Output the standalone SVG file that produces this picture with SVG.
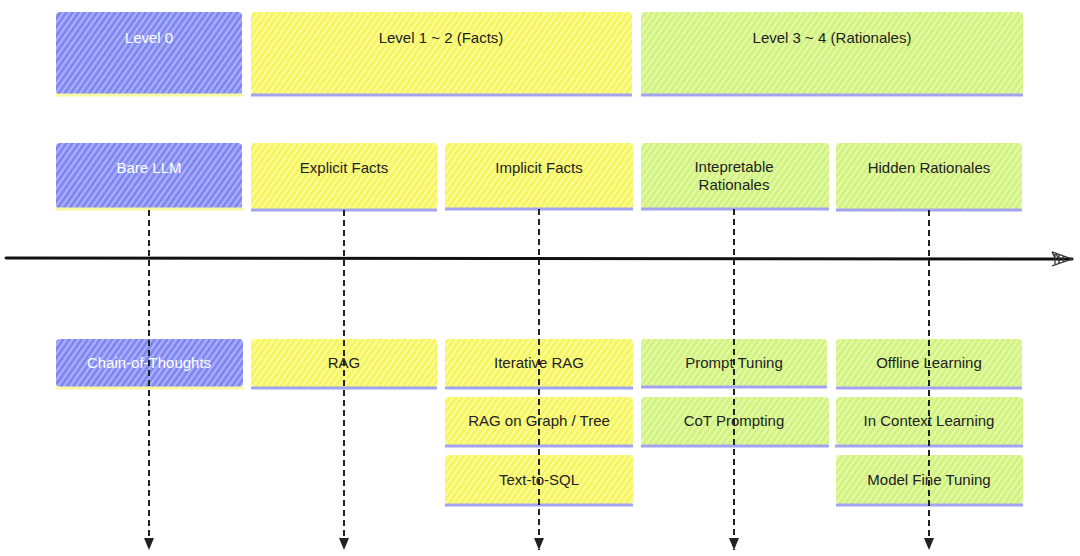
<svg xmlns="http://www.w3.org/2000/svg" width="1080" height="556" viewBox="0 0 1080 556">
<defs>
<pattern id="hb" patternUnits="userSpaceOnUse" width="5" height="5" patternTransform="rotate(35)">
<rect width="5" height="5" fill="#a9aff7"/><line x1="1.5" y1="0" x2="1.5" y2="5" stroke="#7880f0" stroke-width="2.4"/></pattern>
<pattern id="hy" patternUnits="userSpaceOnUse" width="5" height="5" patternTransform="rotate(35)">
<rect width="5" height="5" fill="#fbfb9c"/><line x1="1.5" y1="0" x2="1.5" y2="5" stroke="#f5f555" stroke-width="2.6"/></pattern>
<pattern id="hg" patternUnits="userSpaceOnUse" width="5" height="5" patternTransform="rotate(35)">
<rect width="5" height="5" fill="#e3f9a6"/><line x1="1.5" y1="0" x2="1.5" y2="5" stroke="#cff27c" stroke-width="2.6"/></pattern>
<marker id="ah" viewBox="0 0 12 10" refX="12" refY="5" markerWidth="12" markerHeight="10" markerUnits="userSpaceOnUse" orient="auto">
<path d="M0,0 L12,5 L0,10 Z" fill="#222"/></marker>
<marker id="ax" viewBox="0 0 24 16" refX="22" refY="8" markerWidth="24" markerHeight="16" markerUnits="userSpaceOnUse" orient="auto">
<path d="M2,1 L22,8 L2,15 M5,3 L5,13 M9,4 L9,12 M13,5 L13,11 M2,1 L6,9 M6,3 L10,10" fill="none" stroke="#333" stroke-width="1.3"/></marker>
</defs>
<style>
.b{fill:url(#hb)}
.y{fill:url(#hy)}
.g{fill:url(#hg)}
.ub{stroke:#a3a3f0;stroke-width:3}
.uy{stroke:#f8f8a0;stroke-width:3}
.t{font-family:"Liberation Sans","DejaVu Sans",sans-serif;font-size:15px;fill:#222;text-anchor:middle}
.w{fill:#fff}
.d{fill:none;stroke:#222;stroke-width:2;stroke-dasharray:6 4}
</style>
<rect width="1080" height="556" fill="#fff"/>

<g id="level0"><rect class="b" x="56" y="12" width="186" height="83" rx="4"/><line class="uy" x1="56" y1="95" x2="243" y2="95"/><text class="t w" x="149" y="43">Level 0</text></g>
<g id="level12"><rect class="y" x="251" y="12" width="381" height="83" rx="4"/><line class="ub" x1="251" y1="95" x2="632" y2="95"/><text class="t" x="441" y="43">Level 1 ~ 2 (Facts)</text></g>
<g id="level34"><rect class="g" x="641" y="12" width="382" height="83" rx="4"/><line class="ub" x1="641" y1="95" x2="1023" y2="95"/><text class="t" x="832" y="43">Level 3 ~ 4 (Rationales)</text></g>

<g id="bare-llm"><rect class="b" x="56" y="143" width="186" height="66" rx="4"/><line class="uy" x1="56" y1="209" x2="243" y2="209"/><text class="t w" x="149" y="173">Bare LLM</text></g>
<g id="explicit-facts"><rect class="y" x="251" y="143" width="186" height="66" rx="4"/><line class="ub" x1="251" y1="210" x2="437" y2="210"/><text class="t" x="344" y="173">Explicit Facts</text></g>
<g id="implicit-facts"><rect class="y" x="445" y="143" width="188" height="66" rx="4"/><line class="ub" x1="445" y1="209" x2="633" y2="209"/><text class="t" x="539" y="173">Implicit Facts</text></g>
<g id="interpretable"><rect class="g" x="641" y="143" width="188" height="66" rx="4"/><line class="ub" x1="641" y1="209" x2="829" y2="209"/><text class="t" x="734" y="172">Intepretable</text><text class="t" x="734" y="190">Rationales</text></g>
<g id="hidden"><rect class="g" x="836" y="143" width="186" height="66" rx="4"/><line class="ub" x1="836" y1="210" x2="1022" y2="210"/><text class="t" x="929" y="173">Hidden Rationales</text></g>

<g id="cot"><rect class="b" x="56" y="339" width="187" height="48" rx="4"/><line class="uy" x1="56" y1="388" x2="243" y2="388"/><text class="t w" x="149" y="368">Chain-of-Thoughts</text></g>
<g id="rag"><rect class="y" x="251" y="339" width="186" height="48" rx="4"/><line class="ub" x1="251" y1="388" x2="437" y2="388"/><text class="t" x="344" y="368">RAG</text></g>
<g id="iterative-rag"><rect class="y" x="445" y="339" width="188" height="48" rx="4"/><line class="ub" x1="445" y1="388" x2="633" y2="388"/><text class="t" x="539" y="368">Iterative RAG</text></g>
<g id="rag-graph"><rect class="y" x="445" y="397" width="188" height="48" rx="4"/><line class="ub" x1="445" y1="446" x2="633" y2="446"/><text class="t" x="539" y="426">RAG on Graph / Tree</text></g>
<g id="text-to-sql"><rect class="y" x="445" y="455" width="188" height="49" rx="4"/><line class="ub" x1="445" y1="505" x2="633" y2="505"/><text class="t" x="539" y="485">Text-to-SQL</text></g>
<g id="prompt-tuning"><rect class="g" x="641" y="339" width="186" height="48" rx="4"/><line class="ub" x1="641" y1="387" x2="827" y2="387"/><text class="t" x="734" y="368">Prompt Tuning</text></g>
<g id="cot-prompting"><rect class="g" x="641" y="397" width="188" height="48" rx="4"/><line class="ub" x1="641" y1="446" x2="829" y2="446"/><text class="t" x="734" y="426">CoT Prompting</text></g>
<g id="offline-learning"><rect class="g" x="836" y="339" width="186" height="48" rx="4"/><line class="ub" x1="836" y1="388" x2="1022" y2="388"/><text class="t" x="929" y="368">Offline Learning</text></g>
<g id="icl"><rect class="g" x="836" y="397" width="187" height="48" rx="4"/><line class="ub" x1="835" y1="446" x2="1023" y2="446"/><text class="t" x="929" y="426">In Context Learning</text></g>
<g id="fine-tuning"><rect class="g" x="836" y="455" width="187" height="49" rx="4"/><line class="ub" x1="836" y1="505" x2="1023" y2="505"/><text class="t" x="929" y="485">Model Fine Tuning</text></g>

<g id="connectors">
<line x1="6" y1="258" x2="1072" y2="259" stroke="#111" stroke-width="3" stroke-linecap="round" marker-end="url(#ax)"/>
<path class="d" d="M149,210 L149,550" marker-end="url(#ah)"/>
<path class="d" d="M344,210 L344,550" marker-end="url(#ah)"/>
<path class="d" d="M539,209 L539,550" marker-end="url(#ah)"/>
<path class="d" d="M734,209 L734,550" marker-end="url(#ah)"/>
<path class="d" d="M929,210 L929,550" marker-end="url(#ah)"/>
</g>
</svg>
